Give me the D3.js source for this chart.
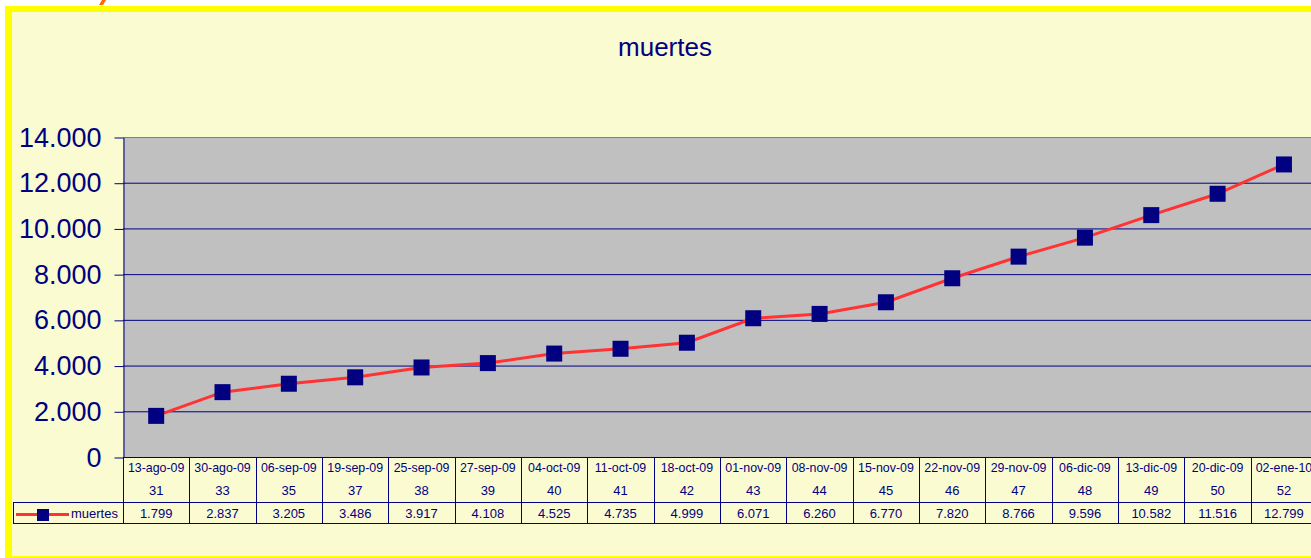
<!DOCTYPE html>
<html lang="es">
<head>
  <meta charset="UTF-8">
  <title>muertes</title>
  <script src="https://cdn.jsdelivr.net/npm/d3@7"></script>
  <style>
    body { margin: 0; background: #fff; }
    text { font-family: Arial, "Liberation Sans", sans-serif; }
  </style>
</head>
<body>

  <svg id="svg" width="1311" height="558"></svg>

  <script>
    // Data
    const dates = ['13-ago-09', '30-ago-09', '06-sep-09', '19-sep-09', '25-sep-09', '27-sep-09',
      '04-oct-09', '11-oct-09', '18-oct-09', '01-nov-09', '08-nov-09', '15-nov-09',
      '22-nov-09', '29-nov-09', '06-dic-09', '13-dic-09', '20-dic-09', '02-ene-10']
    const weeks = [31, 33, 35, 37, 38, 39, 40, 41, 42, 43, 44, 45, 46, 47, 48, 49, 50, 52]
    const muertes = [1799, 2837, 3205, 3486, 3917, 4108, 4525, 4735, 4999, 6071,
      6260, 6770, 7820, 8766, 9596, 10582, 11516, 12799]
    const yTicks = [0, 2000, 4000, 6000, 8000, 10000, 12000, 14000]
    const seriesName = 'muertes'
    const title = 'muertes'

    const navy = '#000080'
    const red = '#FF3333'

    // Spanish number format: 12.799
    const es = d3.formatLocale({ decimal: ',', thousands: '.', grouping: [3], currency: ['', ' €'] })
    const fmt = es.format(',d')

    const rows = dates.map((d, i) => ({ date: d, week: weeks[i], value: muertes[i] }))

    const plotLeft = 123, plotTop = 137, plotBottom = 457
    const band = 66.34
    const plotRight = plotLeft + band * dates.length

    const svg = d3.select('#svg')

    // frame: yellow border + light yellow fill
    svg.append('rect').attr('x', 5).attr('y', 6).attr('width', 1400).attr('height', 560).attr('fill', '#FFFF00')
    svg.append('rect').attr('x', 12).attr('y', 12).attr('width', 1400).attr('height', 544).attr('fill', '#FBFBD1')
    // bit of orange text cut off above the frame
    svg.append('path').attr('d', 'M99,5 L103,5 L106,0 L102,0 Z').attr('fill', '#FF6A00')

    // scales
    const xscale = d3.scaleBand()
      .domain(dates)
      .range([plotLeft, plotRight])
      .padding(0)

    const yscale = d3.scaleLinear()
      .domain([0, 14000])
      .range([plotBottom, plotTop])

    // plot area
    svg.append('rect')
      .attr('x', plotLeft).attr('y', plotTop)
      .attr('width', plotRight - plotLeft).attr('height', plotBottom - plotTop)
      .attr('fill', '#C0C0C0')

    // horizontal gridlines
    svg.append('g')
      .selectAll('line')
      .data(yTicks.filter(t => t > 0))
      .enter()
      .append('line')
      .attr('x1', plotLeft).attr('x2', plotRight)
      .attr('y1', d => yscale(d) + 0.5).attr('y2', d => yscale(d) + 0.5)
      .attr('stroke', d => d === 14000 ? '#808080' : navy)
      .attr('stroke-width', 1)

    // y axis
    const yAxis = svg.append('g')
      .attr('transform', `translate(${plotLeft + 0.5}, 0.5)`)
      .call(d3.axisLeft(yscale).tickValues(yTicks).tickFormat(fmt).tickSize(9).tickPadding(13).tickSizeOuter(0))
    yAxis.select('.domain').attr('stroke', navy)
    yAxis.selectAll('.tick line').attr('stroke', navy)
    yAxis.selectAll('.tick text')
      .attr('fill', navy)
      .attr('font-size', 27)
      .attr('font-family', 'Arial, "Liberation Sans", sans-serif')

    // line + markers
    const line = d3.line()
      .x(d => xscale(d.date) + xscale.bandwidth() / 2)
      .y(d => yscale(d.value))

    svg.append('path')
      .datum(rows)
      .attr('d', line)
      .attr('fill', 'none')
      .attr('stroke', red)
      .attr('stroke-width', 3)

    const mk = 16
    svg.append('g')
      .selectAll('rect')
      .data(rows)
      .enter()
      .append('rect')
      .attr('x', d => xscale(d.date) + xscale.bandwidth() / 2 - mk / 2)
      .attr('y', d => yscale(d.value) - mk / 2)
      .attr('width', mk).attr('height', mk)
      .attr('fill', navy)

    // data table under the plot
    const tTop = plotBottom, tMid = 502, tBot = 523, legendLeft = 13
    const table = svg.append('g').attr('stroke', navy).attr('stroke-width', 1)

    table.selectAll('line.col')
      .data(dates)
      .enter()
      .append('line')
      .attr('class', 'col')
      .attr('x1', d => Math.round(xscale(d)) + 0.5).attr('x2', d => Math.round(xscale(d)) + 0.5)
      .attr('y1', tTop).attr('y2', tBot)
    table.append('line').attr('x1', legendLeft).attr('x2', plotRight).attr('y1', tMid + 0.5).attr('y2', tMid + 0.5)
    table.append('line').attr('x1', legendLeft).attr('x2', plotRight).attr('y1', tBot + 0.5).attr('y2', tBot + 0.5)
    table.append('line').attr('x1', legendLeft + 0.5).attr('x2', legendLeft + 0.5).attr('y1', tMid).attr('y2', tBot + 1)
    table.append('line').attr('x1', plotLeft).attr('x2', plotRight).attr('y1', tTop + 0.5).attr('y2', tTop + 0.5)

    const cell = (cls, y, size, f) => svg.append('g')
      .selectAll('text.' + cls)
      .data(rows)
      .enter()
      .append('text')
      .attr('class', cls)
      .attr('x', d => xscale(d.date) + xscale.bandwidth() / 2)
      .attr('y', y)
      .attr('text-anchor', 'middle')
      .attr('dominant-baseline', 'central')
      .attr('font-size', size)
      .attr('fill', navy)
      .text(f)

    cell('date', 468, 12.4, d => d.date)
    cell('week', 490, 13, d => d.week)
    cell('val', 513, 13, d => fmt(d.value))

    // legend key in the table
    svg.append('line')
      .attr('x1', 16).attr('x2', 69).attr('y1', 514.5).attr('y2', 514.5)
      .attr('stroke', red).attr('stroke-width', 3)
    svg.append('rect').attr('x', 37).attr('y', 509).attr('width', 12).attr('height', 12).attr('fill', navy)
    svg.append('text')
      .attr('x', 71).attr('y', 513)
      .attr('dominant-baseline', 'central')
      .attr('font-size', 13)
      .attr('fill', navy)
      .text(seriesName)

    // title
    svg.append('text')
      .attr('x', 665).attr('y', 47)
      .attr('text-anchor', 'middle')
      .attr('dominant-baseline', 'central')
      .attr('font-size', 26)
      .attr('fill', navy)
      .text(title)
  </script>
</body>
</html>
